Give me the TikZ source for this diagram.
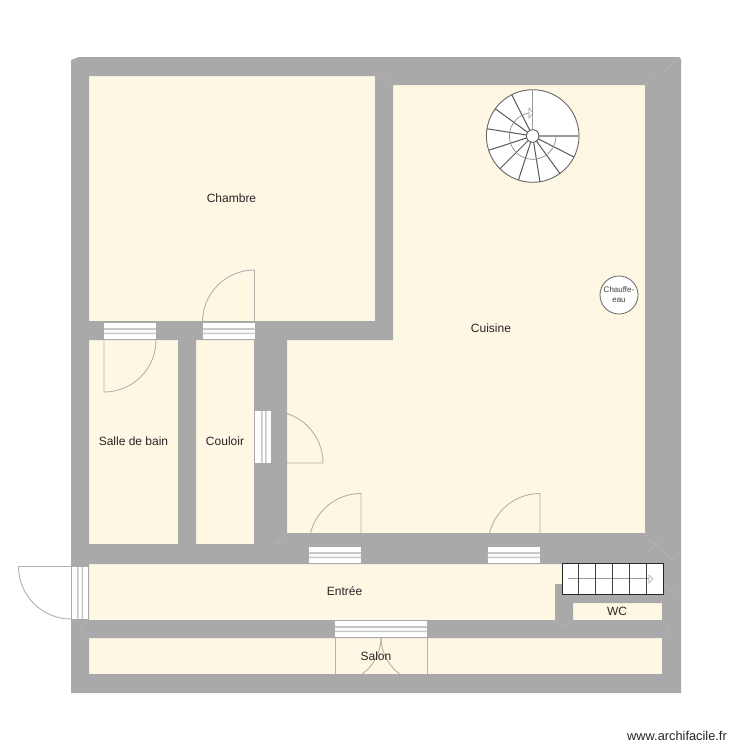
\documentclass[tikz,border=0pt]{standalone}
\usepackage{fontspec}
\usetikzlibrary{calc}
\setmainfont{Liberation Sans}
\definecolor{wallc}{HTML}{A9A9A9}
\definecolor{roomc}{HTML}{FEF7E4}
\definecolor{leafc}{HTML}{B3B1AA}
\definecolor{barc}{HTML}{C8C8C8}
\definecolor{seamc}{HTML}{B6B6B6}
\tikzset{
  room/.style={fill=roomc,draw=none},
  leaf/.style={draw=leafc,line width=0.9pt},
  panel/.style={fill=white,draw=none},
  bar/.style={fill=barc,draw=none},
  seam/.style={draw=seamc,line width=0.5pt},
  lbl/.style={font=\fontsize{12}{14}\selectfont,text=black!85,inner sep=0pt},
  tread/.style={draw=black!75,line width=1pt},
}
\begin{document}
\begin{tikzpicture}[x=1pt,y=-1pt]
\useasboundingbox (0,0) rectangle (750,750);
\fill[white] (0,0) rectangle (750,750);
% rooms
\fill[room] (89,76) rectangle (375,321);
\fill[room] (393,85) -- (645,85) -- (645,533) -- (287,533) -- (287,340) -- (393,340) -- cycle;
\fill[room] (89,340) rectangle (178,544);
\fill[room] (196,340) rectangle (254,544);
\fill[room] (89,564) -- (563,564) -- (563,584) -- (555,584) -- (555,620) -- (89,620) -- cycle;
\fill[room] (573,603) rectangle (662,620);
\fill[room] (89,638) rectangle (662,674);
% door leaves
\draw[leaf] (104,340) -- (104,392) arc[start angle=270,end angle=360,radius=52pt];
\draw[leaf] (254.5,322) -- (254.5,270) arc[start angle=90,end angle=180,radius=52pt];
\draw[leaf] (271,463) -- (323,463) arc[start angle=0,end angle=90,radius=52pt];
\draw[leaf] (361,545.5) -- (361,493.5) arc[start angle=90,end angle=180,radius=52pt];
\draw[leaf] (540,545.5) -- (540,493.5) arc[start angle=90,end angle=180,radius=52pt];
\draw[leaf] (71,566.5) -- (18.5,566.5) arc[start angle=180,end angle=270,radius=52.5pt];
\draw[leaf] (335,637) -- (335,683);
\draw[leaf] (381,637) arc[start angle=0,end angle=-90,radius=46pt];
\draw[leaf] (427,637) -- (427,683);
\draw[leaf] (381,637) arc[start angle=180,end angle=270,radius=46pt];
% walls with the rooms as holes
\fill[wallc,even odd rule]
  (71,60) -- (79,57) -- (679,57) -- (681,59) -- (681,693) -- (71,693) -- cycle
  (89,76) -- (375,76) -- (375,321) -- (89,321) -- cycle
  (393,85) -- (645,85) -- (645,533) -- (287,533) -- (287,340) -- (393,340) -- cycle
  (89,340) -- (178,340) -- (178,544) -- (89,544) -- cycle
  (196,340) -- (254,340) -- (254,544) -- (196,544) -- cycle
  (89,564) -- (563,564) -- (563,584) -- (555,584) -- (555,620) -- (89,620) -- cycle
  (573,603) -- (662,603) -- (662,620) -- (573,620) -- cycle
  (89,638) -- (662,638) -- (662,674) -- (89,674) -- cycle;
% wall seams
\draw[seam] (375,76) -- (383,76) -- (392,85);
\draw[seam] (645,85) -- (655,75) (663,73) -- (679,58);
\draw[seam] (645,533) -- (650,542) -- (662,543) (648,552) -- (655,544) -- (671,559) -- (680,553);
\draw[seam] (664,584) -- (672,594) -- (680,590);
\draw[seam] (555,620) -- (563,628) -- (572,621);
\draw[seam] (662,620) -- (670,629) -- (662,638);
\draw[seam] (273,542) -- (279,542) -- (286,533) (277,538) -- (279,545);
\draw[seam] (88,620) -- (80,629) -- (89,638);
% door panels in the walls
\fill[panel] (104,323) rectangle (156,339);
\fill[bar] (104,328) rectangle (156,330) (104,332.5) rectangle (156,334);
\fill[panel] (202.5,323) rectangle (254.5,339);
\fill[bar] (202.5,328) rectangle (254.5,330) (202.5,332.5) rectangle (254.5,334);
\fill[panel] (255,411) rectangle (271,463);
\fill[bar] (261,411) rectangle (262.5,463) (265,411) rectangle (266.5,463);
\fill[panel] (308.5,547) rectangle (361,563);
\fill[bar] (308.5,552) rectangle (361,554) (308.5,556.5) rectangle (361,558);
\fill[panel] (487.5,547) rectangle (540,563);
\fill[bar] (487.5,552) rectangle (540,554) (487.5,556.5) rectangle (540,558);
\fill[panel] (72,567) rectangle (88,619);
\fill[bar] (77,567) rectangle (78.5,619) (81.5,567) rectangle (83,619);
\fill[panel] (335,621) rectangle (427,637);
\fill[bar] (335,626) rectangle (427,628) (335,630.5) rectangle (427,632);
% spiral stair
\coordinate (sc) at (532.7,136);
\draw[fill=white,draw=black!60,line width=0.9pt] (sc) circle[radius=46.3pt];
\foreach \a in {27,54,81,108,135,162,189,216,243}
  \draw[draw=black!65,line width=1pt] ($(sc)+(\a:6.3)$) -- ($(sc)+(\a:46.3)$);
\draw[draw=black!40,line width=1.5pt] ($(sc)+(0:6.3)$) -- ($(sc)+(0:46.3)$);
\draw[draw=black!40,line width=1.5pt] ($(sc)+(270:6.3)$) -- ($(sc)+(270:46.3)$);
\draw[draw=black!45,line width=0.7pt] plot[domain=0:270,samples=37,smooth] ({532.7+23.3*cos(\x)},{136+23.3*sin(\x)});
\draw[draw=black!35,fill=white,line width=0.7pt] (529,108) -- (533,113) -- (529,118) -- cycle;
\draw[fill=white,draw=black!65,line width=0.9pt] (sc) circle[radius=6.3pt];
% straight stair
\fill[white] (562,563) rectangle (663,594);
\draw[draw=black!40,line width=0.7pt] (568,578.7) -- (649,578.7);
\draw[draw=black!30,fill=white,line width=0.7pt] (649,575) -- (653,578.7) -- (649,583) -- cycle;
\foreach \x in {578.7,595.7,612.3,629.3,646.3} \draw[tread] (\x,563) -- (\x,594);
\draw[draw=black!85,line width=1pt] (562,563) rectangle (663,594);
% water heater
\node[circle,draw=black!60,fill=white,line width=0.8pt,minimum size=38pt,inner sep=0pt,align=center,font=\fontsize{8}{10}\selectfont,text=black!75] (heater) at (619,295) {Chauffe-\\eau};
% labels
\node[lbl] (chambre) at (231.5,198) {Chambre};
\node[lbl] (cuisine) at (491,328) {Cuisine};
\node[lbl] (sdb) at (133.5,441) {Salle de bain};
\node[lbl] (couloir) at (225,441) {Couloir};
\node[lbl] (entree) at (344.5,591) {Entrée};
\node[lbl] (wc) at (617,611) {WC};
\node[lbl] (salon) at (376,656) {Salon};
\node[inner sep=0pt,font=\fontsize{12.8}{15}\selectfont,text=black!85] (site) at (677,736) {www.archifacile.fr};
\end{tikzpicture}
\end{document}
